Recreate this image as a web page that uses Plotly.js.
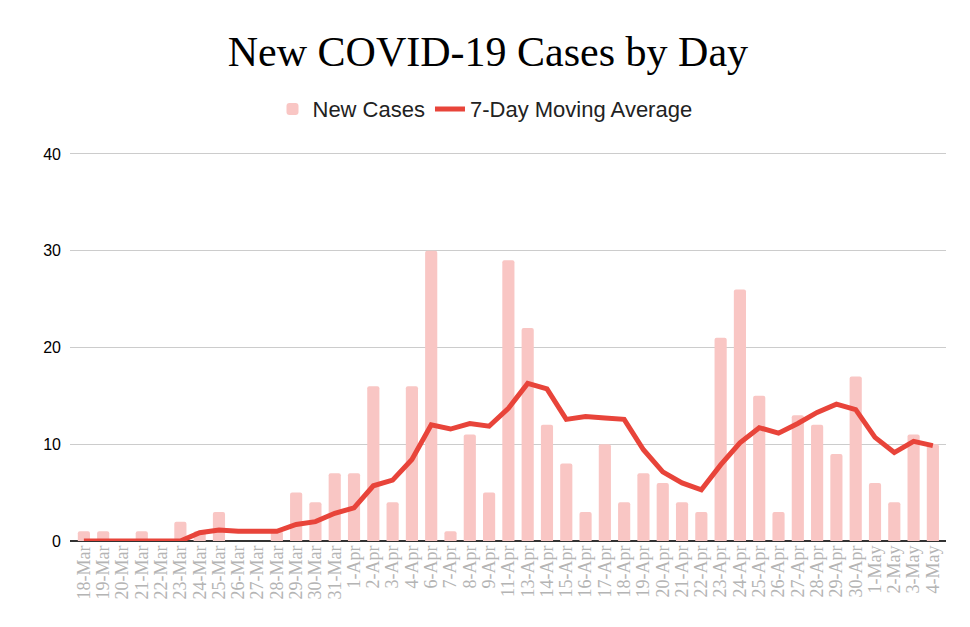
<!DOCTYPE html>
<html>
<head>
<meta charset="utf-8">
<script src="https://cdn.plot.ly/plotly-3.0.1.min.js"></script>
<style>html,body{margin:0;padding:0;background:#fff;}#chart{width:970px;height:627px;}</style>
</head>
<body>
<div id="chart"></div>
<script>
var dates = ["18-Mar","19-Mar","20-Mar","21-Mar","22-Mar","23-Mar","24-Mar","25-Mar","26-Mar","27-Mar","28-Mar","29-Mar","30-Mar","31-Mar",
  "1-Apr","2-Apr","3-Apr","4-Apr","6-Apr","7-Apr","8-Apr","9-Apr","11-Apr","13-Apr","14-Apr","15-Apr","16-Apr","17-Apr","18-Apr","19-Apr","20-Apr",
  "21-Apr","22-Apr","23-Apr","24-Apr","25-Apr","26-Apr","27-Apr","28-Apr","29-Apr","30-Apr","1-May","2-May","3-May","4-May"];
var newCases = [1,1,0,1,0,2,1,3,0,0,1,5,4,7,
  7,16,4,16,30,1,11,5,29,22,12,8,3,10,4,7,6,
  4,3,21,26,15,3,13,12,9,17,6,4,11,10];
var movingAvg = [0,0,0,0,0,0,0.86,1.14,1.0,1.0,1.0,1.71,2.0,2.86,
  3.43,5.71,6.29,8.43,12.0,11.57,12.14,11.86,13.71,16.29,15.71,12.57,12.86,12.71,12.57,9.43,7.14,
  6.0,5.29,7.86,10.14,11.71,11.14,12.14,13.29,14.14,13.57,10.71,9.14,10.29,9.86];
var yTicks = [0,10,20,30,40];

var traces = [
  {type:'bar', name:'New Cases', x:dates, y:newCases,
   marker:{color:'#f9c6c4', cornerradius:2}},
  {type:'scatter', mode:'lines', name:'7-Day Moving Average', x:dates, y:movingAvg,
   line:{color:'#e8443a', width:5}}
];
var layout = {
  width:970, height:627,
  margin:{l:70, r:24, t:151, b:86},
  paper_bgcolor:'#fff', plot_bgcolor:'#fff',
  title:{text:'New COVID-19 Cases by Day', x:0.503, xanchor:'center', y:0.918, yanchor:'middle',
    font:{family:'Liberation Serif, serif', size:42, color:'#000'}},
  showlegend:true,
  legend:{orientation:'h', xref:'container', x:0.5, xanchor:'center', yref:'container', y:0.826, yanchor:'middle',
    font:{family:'Liberation Sans, Arial, sans-serif', size:22, color:'#222'}, itemwidth:30},
  bargap:0.37,
  xaxis:{type:'category', range:[-0.72,44.68], tickangle:-90, showgrid:false,
    tickmode:'array', tickvals:dates, ticktext:dates,
    tickfont:{family:'Liberation Serif, serif', size:18, color:'#b4b4b4'}, ticks:'', showline:false, automargin:false},
  yaxis:{range:[0,40.3], tickvals:yTicks, ticktext:yTicks.map(String), showgrid:true, gridcolor:'#cccccc', gridwidth:1,
    zeroline:true, zerolinecolor:'#333', zerolinewidth:1.5, ticks:'', ticklabelstandoff:8,
    tickfont:{family:'Liberation Sans, Arial, sans-serif', size:16, color:'#000'}, automargin:false, fixedrange:true}
};
Plotly.newPlot('chart', traces, layout, {displayModeBar:false, staticPlot:true});
</script>
</body>
</html>
